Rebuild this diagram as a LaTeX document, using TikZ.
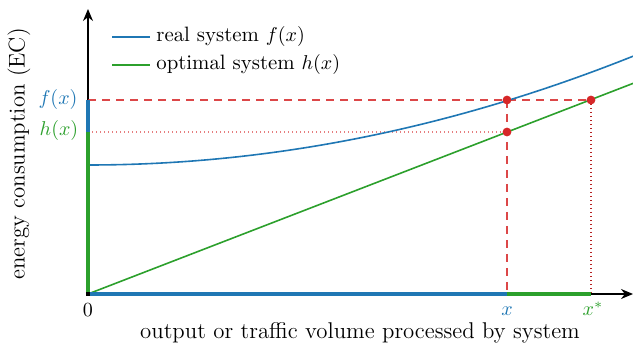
\documentclass[tikz,border=0pt]{standalone}
\usetikzlibrary{arrows.meta}
\definecolor{tblue}{HTML}{1F77B4}
\definecolor{tgreen}{HTML}{2CA02C}
\definecolor{tred}{HTML}{D62728}
\begin{document}
\begin{tikzpicture}[x=0.5pt,y=-0.5pt,
  axis/.style={line width=0.6pt,-{Stealth[length=6pt,width=5pt]}},
  thickblue/.style={draw=tblue,line width=2.2pt},
  thickgreen/.style={draw=tgreen,line width=2.2pt},
  curve/.style={line width=0.8pt},
  guidedash/.style={draw=tred,line width=0.6pt,dash pattern=on 4pt off 3pt,opacity=0.85},
  guidedotlight/.style={draw=tred,line width=0.6pt,dash pattern=on 0.7pt off 1.3pt,opacity=0.6},
  guidedotdark/.style={draw=tred!85!black,line width=0.6pt,dash pattern=on 0.7pt off 1.3pt},
  dot/.style={circle,fill=tred,inner sep=0pt,minimum size=4.4pt},
  lbl/.style={inner sep=1pt,font=\fontsize{10pt}{12pt}\selectfont},
  axlbl/.style={inner sep=1pt,font=\fontsize{11.4pt}{14pt}\selectfont},
  leglbl/.style={inner sep=1pt,anchor=west,font=\fontsize{10.4pt}{12.5pt}\selectfont}]
\useasboundingbox (0,0) rectangle (633,347);
% coordinates
\coordinate (O) at (88,294);
\coordinate (ytop) at (88,9);
\coordinate (xend) at (633,294);
\coordinate (yf) at (88,100);
\coordinate (yh) at (88,132);
\coordinate (xx) at (507,294);
\coordinate (xs) at (591,294);
% axes
\draw[axis] (O) -- (ytop);
\draw[axis] (O) -- (xend);
% guide lines
\draw[guidedash] (yf) -- (591,100);
\draw[guidedotlight] (yh) -- (507,132);
\draw[guidedash] (507,100) -- (xx);
\draw[guidedotdark] (591,100) -- (xs);
% curves
\draw[tblue,curve] plot[domain=0:545,samples=80] ({88+\x},{294-129-3.7e-4*\x*\x});
\draw[tgreen,curve] (O) -- (633,83.4);
% thick axis segments
\draw[thickblue] (O) -- (yf);
\draw[thickgreen] (O) -- (yh);
\draw[thickblue] (O) -- (xx);
\draw[thickgreen] (xx) -- (xs);
\fill[black] (86,292) rectangle (90,296);
% dots
\node[dot] (p1) at (507,100) {};
\node[dot] (p2) at (507,132) {};
\node[dot] (p3) at (591,100) {};
% labels
\node[lbl,text=tblue] (lf) at (58,100) {$f(x)$};
\node[lbl,text=tgreen] (lh) at (59,131) {$h(x)$};
\node[lbl] (l0) at (88,310) {$0$};
\node[lbl,text=tblue] (lx) at (507,311) {$x$};
\node[lbl,text=tgreen] (lxs) at (593,309) {$x^*$};
\node[axlbl] (xlab) at (360,333) {output or traffic volume processed by system};
\node[axlbl,rotate=90] (ylab) at (19,154) {energy consumption (EC)};
% legend
\coordinate (b1) at (112,37);
\coordinate (b2) at (150,37);
\coordinate (g1) at (112,65);
\coordinate (g2) at (150,65);
\draw[tblue,curve] (b1) -- (b2);
\draw[tgreen,curve] (g1) -- (g2);
\node[leglbl] (lb) at (154,37) {real system $f(x)$};
\node[leglbl] (lg) at (154,65) {optimal system $h(x)$};
\end{tikzpicture}
\end{document}
